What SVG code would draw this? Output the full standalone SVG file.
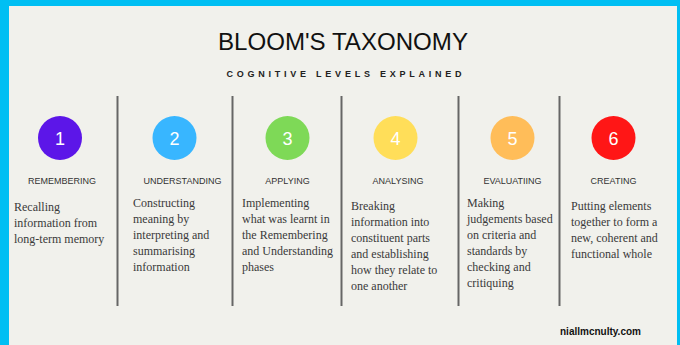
<svg xmlns="http://www.w3.org/2000/svg" width="680" height="345" viewBox="0 0 680 345">
<style>
.title{font-family:"Liberation Sans",Arial,sans-serif;font-size:24px;fill:#111;text-anchor:middle}
.sub{font-family:"Liberation Sans",Arial,sans-serif;font-size:9px;font-weight:bold;fill:#222;text-anchor:middle}
.num{font-family:"Liberation Sans",Arial,sans-serif;font-size:18px;fill:#fff;text-anchor:middle}
.lbl{font-family:"Liberation Sans",Arial,sans-serif;font-size:9px;fill:#333;text-anchor:middle}
.desc{font-family:"Liberation Serif","Times New Roman",serif;font-size:12px;fill:#3a3a3a}
.div{stroke:#666;stroke-width:2}
.wm{font-family:"Liberation Sans",Arial,sans-serif;font-size:10px;font-weight:bold;fill:#111}
</style>
<rect x="0" y="0" width="680" height="345" fill="#00BFF3"/>
<rect x="9" y="6" width="668" height="339" fill="#F1F1EC"/>
<text class="title" x="343" y="50" textLength="250" lengthAdjust="spacingAndGlyphs">BLOOM'S TAXONOMY</text>
<text class="sub" x="344" y="77" textLength="235" lengthAdjust="spacing">COGNITIVE LEVELS EXPLAINED</text>
<g id="dividers">
<line class="div" x1="117.5" y1="96" x2="117.5" y2="306"/>
<line class="div" x1="232.5" y1="96" x2="232.5" y2="306"/>
<line class="div" x1="341.5" y1="96" x2="341.5" y2="306"/>
<line class="div" x1="458.5" y1="96" x2="458.5" y2="306"/>
<line class="div" x1="559.5" y1="96" x2="559.5" y2="306"/>
</g>
<g id="remembering">
<circle cx="60" cy="138" r="22" fill="#5C16E8"/>
<text class="num" x="60" y="145">1</text>
<text class="lbl" x="62" y="184">REMEMBERING</text>
<text class="desc" x="14"><tspan x="14" y="211">Recalling</tspan><tspan x="14" y="227">information from</tspan><tspan x="14" y="243">long-term memory</tspan></text>
</g>
<g id="understanding">
<circle cx="174.5" cy="138" r="22" fill="#38B6FF"/>
<text class="num" x="174.5" y="145">2</text>
<text class="lbl" x="182.5" y="184">UNDERSTANDING</text>
<text class="desc"><tspan x="133" y="207">Constructing</tspan><tspan x="133" y="223">meaning by</tspan><tspan x="133" y="239">interpreting and</tspan><tspan x="133" y="255">summarising</tspan><tspan x="133" y="271">information</tspan></text>
</g>
<g id="applying">
<circle cx="287.5" cy="138" r="22" fill="#7ED957"/>
<text class="num" x="287.5" y="145">3</text>
<text class="lbl" x="287.5" y="184">APPLYING</text>
<text class="desc"><tspan x="242" y="207">Implementing</tspan><tspan x="242" y="223">what was learnt in</tspan><tspan x="242" y="239">the Remembering</tspan><tspan x="242" y="255">and Understanding</tspan><tspan x="242" y="271">phases</tspan></text>
</g>
<g id="analysing">
<circle cx="395.5" cy="138" r="22" fill="#FFDE59"/>
<text class="num" x="395.5" y="145">4</text>
<text class="lbl" x="398" y="184">ANALYSING</text>
<text class="desc"><tspan x="351" y="210">Breaking</tspan><tspan x="351" y="226">information into</tspan><tspan x="351" y="242">constituent parts</tspan><tspan x="351" y="258">and establishing</tspan><tspan x="351" y="274">how they relate to</tspan><tspan x="351" y="290">one another</tspan></text>
</g>
<g id="evaluating">
<circle cx="512.5" cy="138" r="22" fill="#FFBD59"/>
<text class="num" x="512.5" y="145">5</text>
<text class="lbl" x="512.5" y="184">EVALUATIING</text>
<text class="desc"><tspan x="467" y="207">Making</tspan><tspan x="467" y="223">judgements based</tspan><tspan x="467" y="239">on criteria and</tspan><tspan x="467" y="255">standards by</tspan><tspan x="467" y="271">checking and</tspan><tspan x="467" y="287">critiquing</tspan></text>
</g>
<g id="creating">
<circle cx="613.5" cy="138" r="22" fill="#FF1616"/>
<text class="num" x="613.5" y="145">6</text>
<text class="lbl" x="613.5" y="184">CREATING</text>
<text class="desc"><tspan x="571" y="210">Putting elements</tspan><tspan x="571" y="226">together to form a</tspan><tspan x="571" y="242">new, coherent and</tspan><tspan x="571" y="258">functional whole</tspan></text>
</g>
<text class="wm" x="560" y="335">niallmcnulty.com</text>
</svg>
